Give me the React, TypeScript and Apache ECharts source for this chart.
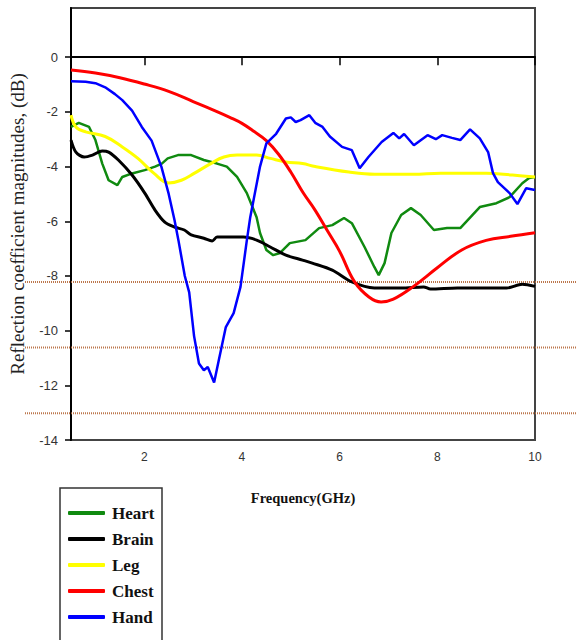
import React, { useEffect, useRef } from "react";
import * as echarts from "echarts";

// ---- data (frequency in GHz, reflection coefficient in dB) ----
const heartFreq = [0.5, 0.66, 0.87, 1.0, 1.14, 1.27, 1.45, 1.55, 1.75, 2.01, 2.22, 2.36, 2.48, 2.69, 2.96, 3.22, 3.49, 3.69, 3.9, 4.1, 4.3, 4.37, 4.5, 4.64, 4.78, 4.98, 5.3, 5.58, 5.85, 6.09, 6.25, 6.51, 6.71, 6.8, 6.92, 7.06, 7.26, 7.46, 7.66, 7.93, 8.2, 8.47, 8.87, 9.21, 9.48, 9.74, 9.88, 10];
const heartDb = [-2.55, -2.4, -2.55, -3.03, -3.89, -4.5, -4.68, -4.38, -4.25, -4.13, -4.0, -3.89, -3.7, -3.58, -3.58, -3.76, -3.89, -4.0, -4.38, -4.97, -5.85, -6.43, -7.05, -7.24, -7.16, -6.8, -6.69, -6.25, -6.14, -5.88, -6.07, -6.94, -7.67, -7.97, -7.53, -6.43, -5.77, -5.52, -5.77, -6.32, -6.25, -6.25, -5.48, -5.34, -5.12, -4.61, -4.42, -4.38];

const brainFreq = [0.5, 0.6, 0.77, 0.94, 1.14, 1.27, 1.47, 1.75, 2.01, 2.22, 2.42, 2.62, 2.82, 2.96, 3.22, 3.39, 3.49, 4.03, 4.3, 4.58, 4.9, 5.24, 5.44, 5.85, 6.25, 6.71, 7.26, 7.72, 7.86, 8.41, 9.08, 9.42, 9.74, 10];
const brainDb = [-3.03, -3.47, -3.65, -3.58, -3.43, -3.47, -3.76, -4.31, -4.97, -5.59, -6.03, -6.21, -6.32, -6.5, -6.62, -6.72, -6.58, -6.58, -6.69, -6.94, -7.24, -7.42, -7.53, -7.79, -8.22, -8.44, -8.44, -8.4, -8.48, -8.44, -8.44, -8.44, -8.3, -8.38];

const legFreq = [0.5, 0.6, 0.8, 1.2, 1.55, 1.87, 2.2, 2.5, 2.76, 3.02, 3.36, 3.63, 3.9, 4.3, 4.58, 4.9, 5.24, 5.5, 6.19, 6.72, 7.5, 8.07, 9.0, 9.54, 10];
const legDb = [-2.12, -2.55, -2.73, -2.9, -3.28, -3.7, -4.25, -4.6, -4.5, -4.25, -3.89, -3.65, -3.58, -3.58, -3.7, -3.83, -3.89, -4.0, -4.2, -4.28, -4.28, -4.24, -4.24, -4.31, -4.38];

const chestFreq = [0.5, 1.0, 1.5, 2.0, 2.5, 3.0, 3.5, 3.75, 4.0, 4.25, 4.5, 4.75, 5.0, 5.25, 5.5, 5.75, 6.0, 6.3, 6.6, 6.85, 7.1, 7.5, 8.0, 8.5, 9.0, 9.5, 10];
const chestDb = [-0.47, -0.58, -0.75, -0.98, -1.25, -1.62, -2.0, -2.2, -2.42, -2.72, -3.05, -3.55, -4.2, -4.95, -5.6, -6.35, -7.1, -8.2, -8.77, -8.95, -8.85, -8.4, -7.7, -7.05, -6.7, -6.55, -6.42];

const handFreq = [0.5, 0.8, 1.0, 1.2, 1.4, 1.55, 1.75, 1.95, 2.15, 2.35, 2.5, 2.62, 2.7, 2.83, 2.92, 3.02, 3.12, 3.22, 3.3, 3.43, 3.53, 3.67, 3.83, 3.97, 4.1, 4.17, 4.37, 4.5, 4.7, 4.9, 5.0, 5.1, 5.2, 5.38, 5.5, 5.65, 5.8, 6.05, 6.25, 6.41, 6.59, 6.86, 7.1, 7.22, 7.32, 7.52, 7.8, 7.97, 8.1, 8.3, 8.47, 8.67, 8.87, 9.04, 9.14, 9.24, 9.48, 9.64, 9.82, 10];
const handDb = [-0.88, -0.9, -0.95, -1.1, -1.35, -1.57, -1.95, -2.55, -3.05, -4.0, -5.0, -5.96, -6.7, -8.0, -8.6, -10.2, -11.2, -11.45, -11.33, -11.9, -11.05, -9.87, -9.36, -8.4, -6.7, -5.85, -4.0, -3.15, -2.8, -2.24, -2.2, -2.37, -2.3, -2.12, -2.4, -2.55, -2.9, -3.28, -3.4, -4.06, -3.65, -3.1, -2.77, -2.97, -2.81, -3.22, -2.85, -3.0, -2.85, -2.95, -3.03, -2.64, -2.97, -3.47, -4.24, -4.57, -4.97, -5.37, -4.79, -4.86];

const seriesNames = ["Heart", "Brain", "Leg", "Chest", "Hand"];
const seriesColors = ["#108a10", "#000000", "#ffff00", "#ff0000", "#0000ff"];
const xTicks = [2, 4, 6, 8, 10];
const yTicks = [-14, -12, -10, -8, -6, -4, -2, 0];
const refLevels = [-8.22, -10.62, -13.02];

const pairs = (f: number[], d: number[]) => f.map((v, i) => [v, d[i]]);

export default function App() {
  const ref = useRef<HTMLDivElement>(null);
  useEffect(() => {
    if (!ref.current) return;
    const chart = echarts.init(ref.current, undefined, { renderer: "svg" });
    const allData = [
      pairs(heartFreq, heartDb),
      pairs(brainFreq, brainDb),
      pairs(legFreq, legDb),
      pairs(chestFreq, chestDb),
      pairs(handFreq, handDb),
    ];
    const smoothFlags = [false, 0.3, 0.4, 0.4, false];
    const widths = [2.5, 3, 3, 3, 2.5];
    chart.setOption({
      animation: false,
      backgroundColor: "#ffffff",
      grid: {
        left: 65,
        top: 8,
        width: 470,
        height: 432,
        show: true,
        borderColor: "#444",
        borderWidth: 2,
        backgroundColor: "transparent",
      },
      xAxis: {
        type: "value",
        min: 0.5,
        max: 10,
        name: "Frequency(GHz)",
        nameLocation: "middle",
        nameGap: 50,
        nameTextStyle: {
          fontFamily: "Liberation Serif",
          fontWeight: "bold",
          fontSize: 14.5,
          color: "#111",
        },
        axisLine: { show: true, lineStyle: { color: "#000", width: 2 } },
        axisTick: { show: true, length: 8, customValues: xTicks, lineStyle: { color: "#000", width: 1.5 } },
        axisLabel: {
          customValues: xTicks,
          margin: 11,
          fontFamily: "Liberation Sans",
          fontSize: 12,
          color: "#333",
        },
        splitLine: { show: false },
      },
      yAxis: {
        type: "value",
        min: -14,
        max: 1.8,
        name: "Reflection coefficient magnitudes, (dB)",
        nameLocation: "middle",
        nameGap: 44,
        nameRotate: 90,
        nameTextStyle: {
          fontFamily: "Liberation Serif",
          fontSize: 19,
          color: "#222",
        },
        axisLine: { show: true, lineStyle: { color: "#000", width: 2 } },
        axisTick: { show: true, length: 6, customValues: yTicks, lineStyle: { color: "#000", width: 1.5 } },
        axisLabel: {
          customValues: yTicks,
          margin: 13,
          fontFamily: "Liberation Sans",
          fontSize: 13,
          color: "#333",
        },
        splitLine: { show: false },
      },
      legend: {
        orient: "vertical",
        left: 68,
        top: 504,
        padding: 0,
        itemWidth: 37,
        itemHeight: 4,
        itemGap: 8,
        icon: "roundRect",
        data: seriesNames,
        textStyle: {
          fontFamily: "Liberation Serif",
          fontWeight: "bold",
          fontSize: 17,
          lineHeight: 18,
          color: "#111",
          padding: [0, 0, 0, 2],
        },
      },
      series: seriesNames.map((name, i) => ({
        name,
        type: "line",
        data: allData[i],
        showSymbol: false,
        symbol: "none",
        smooth: smoothFlags[i],
        z: 3,
        lineStyle: { color: seriesColors[i], width: widths[i] },
        itemStyle: { color: seriesColors[i] },
      })),
    });

    const lines = refLevels.map((lv) => {
      const y = chart.convertToPixel({ yAxisIndex: 0 }, lv) as number;
      return {
        type: "line",
        z: 1,
        shape: { x1: 25, y1: y, x2: 576, y2: y },
        style: { stroke: "#b5683a", lineWidth: 2, lineDash: [1, 1], opacity: 0.9 },
      };
    });
    chart.setOption({
      graphic: [
        ...lines,
        {
          type: "rect",
          z: 1,
          shape: { x: 60, y: 488, width: 102, height: 170 },
          style: { fill: "none", stroke: "#333", lineWidth: 1.5 },
        },
      ],
    });

    return () => chart.dispose();
  }, []);
  return (
    <div
      ref={ref}
      style={{ position: "fixed", left: 0, top: 0, width: 576, height: 640, background: "#fff" }}
    />
  );
}
